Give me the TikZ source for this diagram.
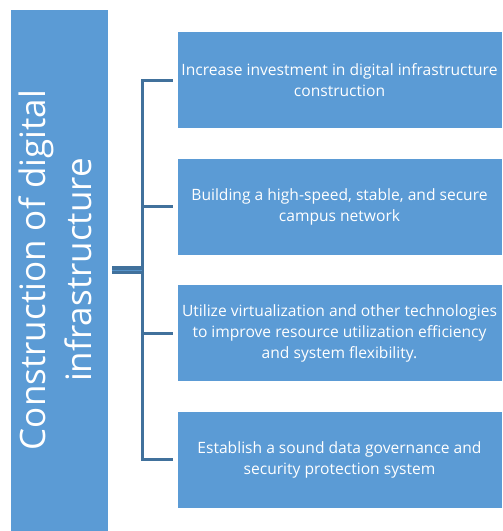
\documentclass[tikz,border=0pt]{standalone}
\usepackage{fontspec}
\setmainfont{Open Sans}
\usetikzlibrary{positioning}
\definecolor{boxblue}{HTML}{5B9BD5}
\definecolor{linkblue}{HTML}{41719C}
\tikzset{
  titlebox/.style={fill=boxblue, draw=white, line width=0.6pt, text=white,
    minimum width=98pt, minimum height=522pt, inner sep=0pt,
    font=\fontsize{35}{46}\selectfont},
  stepbox/.style={fill=boxblue, draw=white, line width=0.6pt, text=white,
    minimum width=325pt, minimum height=97pt, inner sep=0pt, align=center,
    font=\fontsize{15.6}{21}\selectfont},
  bracket/.style={draw=linkblue, line width=3pt},
  stem/.style={draw=linkblue, line width=3.5pt, double=boxblue!80!linkblue, double distance=1pt}
}

\begin{document}
\begin{tikzpicture}[x=1pt, y=-1pt, node distance=29pt]
  \useasboundingbox (0,0) rectangle (503,531);

  % left title bar
  \node[titlebox] (title) at (59,270) {\rotatebox{90}{\begin{tabular}{@{}c@{}}Construction of digital\\ infrastructure\end{tabular}}};

  % measures
  \node[stepbox] (inv) at (339.5,80) {Increase investment in digital infrastructure\\construction};
  \node[stepbox, below=of inv] (net) {Building a high-speed, stable, and secure\\campus network};
  \node[stepbox, below=of net] (virt) {Utilize virtualization and other technologies\\to improve resource utilization efficiency\\and system flexibility.};
  \node[stepbox, below=of virt] (gov) {Establish a sound data governance and\\security protection system};

  % bracket
  \coordinate (spine) at (142,0);
  \draw[bracket] ([xshift=-4pt]inv.west) -- (inv.west -| spine) -- (gov.west -| spine) -- ([xshift=-4pt]gov.west);
  \foreach \b in {net,virt}
    \draw[bracket] ([xshift=-4pt]\b.west) -- (\b.west -| spine);
  \draw[stem] ([xshift=4pt]title.east) -- (title.east -| spine);
\end{tikzpicture}
\end{document}
